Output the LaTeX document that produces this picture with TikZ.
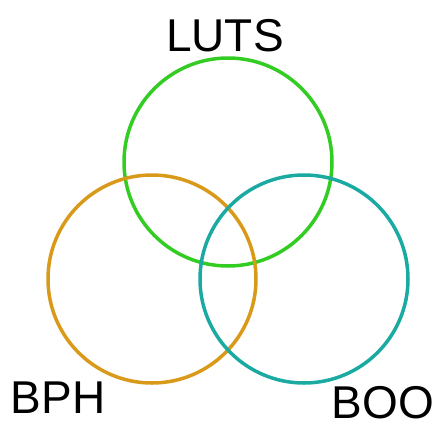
\documentclass[tikz,border=0pt]{standalone}
\usepackage{fontspec}
\setmainfont{Liberation Sans}
\definecolor{cgreen}{HTML}{33CC22}
\definecolor{corange}{HTML}{D99A1A}
\definecolor{cteal}{HTML}{1AAAA2}
\begin{document}
\begin{tikzpicture}[x=1pt,y=-1pt,
  ring/.style={line width=3.5pt},
  lab/.style={anchor=base,inner sep=0pt,font=\fontsize{46}{46}\selectfont}]
\useasboundingbox (0,0) rectangle (436,431);
\draw[ring,cgreen] (228,162) circle[radius=104];
\draw[ring,corange] (152,279) circle[radius=104];
\draw[ring,cteal] (304,279) circle[radius=104];
\node[lab] (luts) at (225,51) {LUTS};
\node[lab] (bph) at (58,413) {BPH};
\node[lab] (boo) at (383,418) {BOO};
\end{tikzpicture}
\end{document}
